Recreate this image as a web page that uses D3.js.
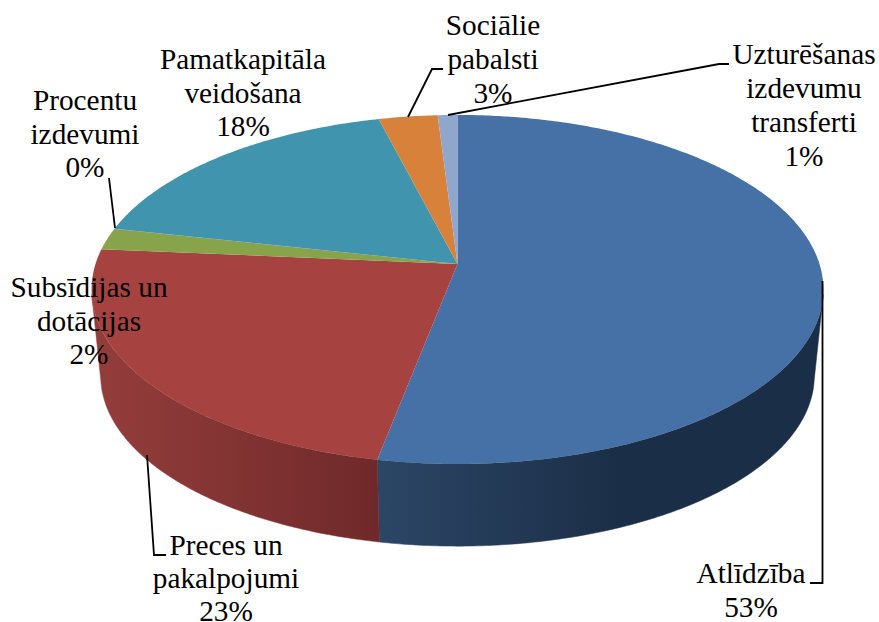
<!DOCTYPE html>
<meta charset="utf-8">
<script src="https://d3js.org/d3.v7.min.js"></script>
<style>
  html, body { margin: 0; background: #fff; }
  text { font-family: "Liberation Serif", serif; font-size: 29.3px; fill: #000; text-anchor: middle; }
</style>
<svg id="chart" width="879" height="622"></svg>

<script>
    // Data (percent of total)
    const categories = ["Atlīdzība", "Preces un pakalpojumi", "Subsīdijas un dotācijas", "Procentu izdevumi", "Pamatkapitāla veidošana", "Sociālie pabalsti", "Uzturēšanas izdevumu transferti"]
    const values = [53.04, 23.36, 2.0, 0.02, 17.58, 3.0, 1.0]
    const labelLines = [
      ["Atlīdzība"],
      ["Preces un", "pakalpojumi"],
      ["Subsīdijas un", "dotācijas"],
      ["Procentu", "izdevumi"],
      ["Pamatkapitāla", "veidošana"],
      ["Sociālie", "pabalsti"],
      ["Uzturēšanas", "izdevumu", "transferti"]
    ]

    // Colours
    const topColors = ["#4571a6", "#a64340", "#88a44a", "#71588f", "#4094ad", "#d8813b", "#8fa6cd"]
    const sideStops = { 0: ["#2c4666", "#1b2e47"], 1: ["#70292a", "#933d3b"] }

    // Label layout: [centre x, first baseline, line step]
    const labelPos = [[751, 583, 34], [226, 555, 32.8], [89, 297, 33.5], [85, 110, 33.5], [243, 69, 33.5], [493, 35, 34], [804, 64, 34]]
    // Leader lines
    const leaders = [
      [[822.5, 281], [822.5, 583], [810, 583]],
      [[147, 455], [154, 555], [166, 555]],
      null,
      [[109, 178], [115, 228]],
      null,
      [[408, 117], [432, 69], [443, 69]],
      [[448, 115], [719, 64], [729, 64]]
    ]

    const svg = d3.select("#chart")

    // Perspective view of the pie disc
    const cx = 457.5, cy = 264, rx = 362, ry = 170.8, k = 0.146
    const depthY = 376, faceY = 289.5, shrink = 0.975

    const xScale = d3.scaleLinear().domain([-1, 1]).range([cx - rx, cx + rx])
    const yScale = d3.scaleLinear().domain([-1, 1]).range([cy - ry, cy + ry])

    function topPoint(a) {
      const u = Math.sin(a), v = -Math.cos(a)
      const p = 1 / (1 - k * v)
      return [xScale(u * p), yScale(v * p)]
    }
    function bottomPoint(a) {
      const t = topPoint(a)
      return [cx + (t[0] - cx) * shrink, depthY + (t[1] - faceY) * shrink]
    }
    function arcAngles(a0, a1) {
      const n = Math.max(2, Math.ceil((a1 - a0) / 0.01))
      return d3.range(n + 1).map(i => a0 + (a1 - a0) * i / n)
    }

    const line = d3.line()
    const pie = d3.pie().sort(null).value(d => d)
    const slices = pie(values)

    // Visible front wall runs between these two angles
    const sideStart = 100 * Math.PI / 180, sideEnd = 260 * Math.PI / 180

    const defs = svg.append("defs")
    const frontX = topPoint(slices[0].endAngle)[0]
    const gradRange = { 0: [frontX, 620], 1: [frontX, 100] }
    Object.keys(sideStops).forEach(function (i) {
      const g = defs.append("linearGradient")
        .attr("id", "side" + i)
        .attr("gradientUnits", "userSpaceOnUse")
        .attr("x1", gradRange[i][0]).attr("x2", gradRange[i][1])
        .attr("y1", 0).attr("y2", 0)
      g.append("stop").attr("offset", 0).attr("stop-color", sideStops[i][0])
      g.append("stop").attr("offset", 1).attr("stop-color", sideStops[i][1])
    })

    // Side walls
    svg.append("g")
      .selectAll("path")
      .data(slices.filter(d => d.index < 2))
      .enter()
      .append("path")
        .attr("d", function (d) {
          const a0 = Math.max(d.startAngle, sideStart), a1 = Math.min(d.endAngle, sideEnd)
          const angles = arcAngles(a0, a1)
          return line(angles.map(topPoint).concat(angles.reverse().map(bottomPoint))) + "Z"
        })
        .attr("fill", d => "url(#side" + d.index + ")")
        .attr("stroke", d => "url(#side" + d.index + ")")
        .attr("stroke-width", 0.5)

    // Top face
    svg.append("g")
      .selectAll("path")
      .data(slices)
      .enter()
      .append("path")
        .attr("d", d => line([[cx, cy]].concat(arcAngles(d.startAngle, d.endAngle).map(topPoint))) + "Z")
        .attr("fill", d => topColors[d.index])

    // Leader lines
    svg.append("g")
      .selectAll("path")
      .data(leaders.filter(d => d))
      .enter()
      .append("path")
        .attr("d", d => line(d))
        .attr("fill", "none")
        .attr("stroke", "#000")
        .attr("stroke-width", 1.8)

    // Labels
    const labels = svg.append("g")
      .selectAll("text")
      .data(categories)
      .enter()
      .append("text")
        .attr("x", (d, i) => labelPos[i][0])
        .attr("y", (d, i) => labelPos[i][1])

    labels.each(function (d, i) {
      const rows = labelLines[i].concat([Math.round(values[i]) + "%"])
      d3.select(this).selectAll("tspan")
        .data(rows)
        .enter()
        .append("tspan")
          .attr("x", labelPos[i][0])
          .attr("y", (r, j) => labelPos[i][1] + j * labelPos[i][2])
          .text(r => r)
    })
</script>
